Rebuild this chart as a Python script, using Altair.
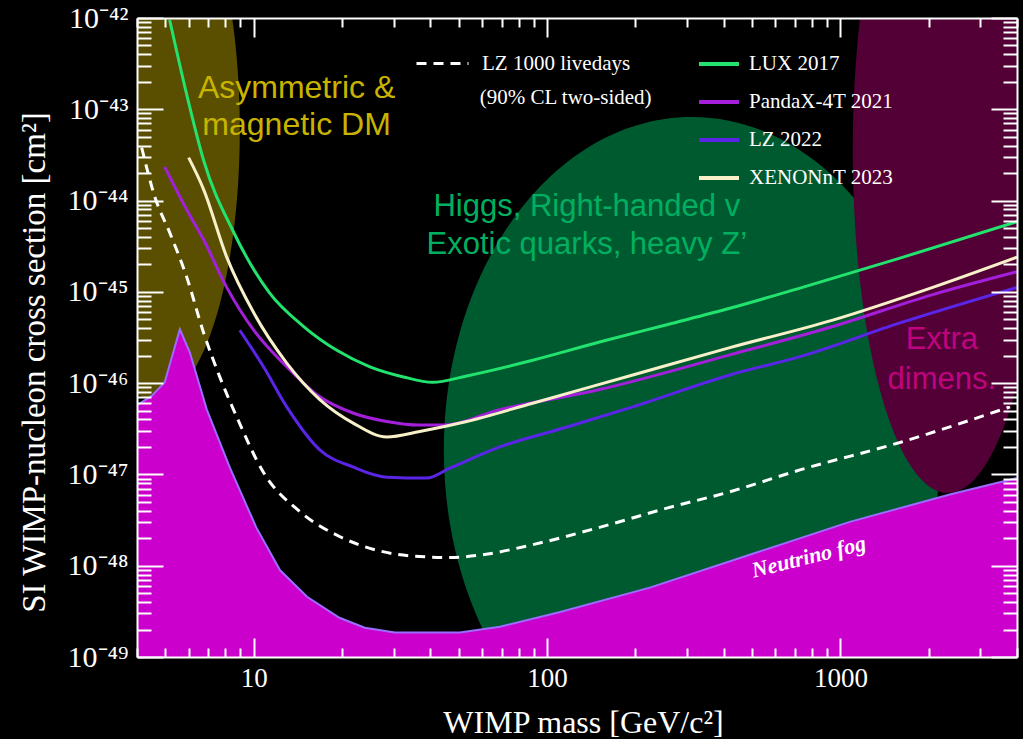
import altair as alt
import pandas as pd

# ---------------- data ----------------
fog_mass = [4.0, 4.49, 4.97, 5.60, 6.05, 6.92, 8.28, 10.2, 12.3, 15.2, 19.6, 23.9, 30.3,
            50.4, 69, 110, 224, 491, 1076, 2360, 4000]
fog_xsec = [5.75e-47, 7.24e-47, 1.02e-46, 3.89e-46, 2.19e-46, 5.13e-47, 1.20e-47, 2.63e-48,
            8.9e-49, 4.57e-49, 2.69e-49, 2.09e-49, 1.86e-49, 1.86e-49, 2.14e-49, 3.09e-49,
            5.75e-49, 1.32e-48, 3.02e-48, 6.03e-48, 9.12e-48]

lux_mass = [5.17, 5.91, 6.75, 8.55, 11.3, 14.8, 19.2, 24.9, 32.4, 40.7, 53.2, 89.3, 151, 256,
            420, 728, 1596, 4000]
lux_xsec = [9.5e-43, 1.45e-43, 2.75e-44, 4.47e-45, 9.8e-46, 4.17e-46, 2.29e-46, 1.51e-46,
            1.17e-46, 1.02e-46, 1.20e-46, 1.78e-46, 2.82e-46, 4.37e-46, 6.61e-46, 1.10e-45,
            2.34e-45, 5.89e-45]

pandax_mass = [4.97, 5.91, 6.75, 8.09, 10, 12.96, 16.8, 21.9, 28.4, 36.8, 44.1, 69, 151, 420,
               942, 2065, 4000]
pandax_xsec = [2.34e-44, 7.94e-45, 3.72e-45, 1.12e-45, 3.80e-46, 1.51e-46, 7.08e-47, 4.68e-47,
               3.80e-47, 3.47e-47, 3.47e-47, 5.13e-47, 8.51e-47, 2.04e-46, 4.17e-46, 9.33e-46,
               1.66e-45]

lz22_mass = [8.96, 10.8, 12.96, 16.8, 21.9, 28.4, 38.9, 46.6, 69, 117, 196, 420, 728, 1596, 4000]
lz22_xsec = [3.80e-46, 1.51e-46, 5.50e-47, 1.86e-47, 1.20e-47, 9.33e-48, 9.12e-48, 1.17e-47,
             2.00e-47, 3.31e-47, 5.50e-47, 1.23e-46, 1.95e-46, 4.57e-46, 1.12e-45]

xenon_mass = [6.0, 6.75, 8.09, 10, 12.96, 16.8, 21.9, 28.4, 36.8, 53.2, 89.3, 196, 420, 942,
              2065, 4000]
xenon_xsec = [2.95e-44, 1.32e-44, 2.40e-45, 5.89e-46, 1.66e-46, 6.61e-47, 3.63e-47, 2.57e-47,
              2.95e-47, 3.80e-47, 6.03e-47, 1.23e-46, 2.45e-46, 4.90e-46, 1.12e-45, 2.40e-45]

lz1000_mass = [4.15, 4.60, 5.17, 5.91, 6.75, 7.66, 8.75, 10.8, 14.4, 19.6, 26.9, 36.8, 46.6,
               60.4, 89.3, 151, 256, 420, 728, 1596, 3785]
lz1000_xsec = [3.80e-44, 1.10e-44, 4.47e-45, 1.45e-45, 3.55e-46, 1.17e-46, 4.27e-47, 1.05e-47,
               3.89e-48, 2.09e-48, 1.45e-48, 1.26e-48, 1.23e-48, 1.32e-48, 1.70e-48, 2.63e-48,
               4.27e-48, 6.46e-48, 1.12e-47, 2.24e-47, 5.50e-47]

series_names = ["LUX 2017", "PandaX-4T 2021", "LZ 2022", "XENONnT 2023"]
series_colors = ["#22e36e", "#a41fdc", "#5b25e8", "#f7f0c9"]
dash_name = "LZ 1000 livedays"

# theory regions: centres in data space
region_names = ["Asymmetric & magnetic DM", "Higgs, Right-handed v", "Extra dimens."]
region_mass = [4.60, 311.5, 2323]
region_xsec = [5.93e-44, 1.85e-47, 3.58e-44]

asym_text = ["Asymmetric &", "magnetic DM"]
asym_mass = [14.0, 14.0]
asym_xsec = [1.71e-43, 6.73e-44]
higgs_text = ["Higgs, Right-handed v", "Exotic quarks, heavy Z\u2019"]
higgs_mass = [136.6, 136.6]
higgs_xsec = [8.51e-45, 3.27e-45]
extra_text = ["Extra", "dimens."]
extra_mass = [2217, 2217]
extra_xsec = [2.97e-46, 1.08e-46]
fog_text = ["Neutrino fog"]
fog_text_mass = [780]
fog_text_xsec = [1.25e-48]
note_text = ["(90% CL two-sided)"]
note_mass = [58.96]
note_xsec = [1.33e-43]

x_major = [10, 100, 1000]
x_minor = [4, 5, 6, 7, 8, 9, 20, 30, 40, 50, 60, 70, 80, 90,
           200, 300, 400, 500, 600, 700, 800, 900, 2000, 3000, 4000]
y_major = [10.0 ** e for e in range(-49, -41)]
y_minor = [m * 10.0 ** e for e in range(-49, -42) for m in range(2, 10)]
y_labels = ["10\u207b\u2074\u2079", "10\u207b\u2074\u2078", "10\u207b\u2074\u2077",
            "10\u207b\u2074\u2076", "10\u207b\u2074\u2075", "10\u207b\u2074\u2074",
            "10\u207b\u2074\u00b3", "10\u207b\u2074\u00b2"]

# ---------------- tables ----------------
curves = pd.concat([
    pd.DataFrame({"series": n, "mass": m, "xsec": s})
    for n, m, s in [
        ("LUX 2017", lux_mass, lux_xsec),
        ("PandaX-4T 2021", pandax_mass, pandax_xsec),
        ("LZ 2022", lz22_mass, lz22_xsec),
        ("XENONnT 2023", xenon_mass, xenon_xsec),
    ]
], ignore_index=True)
fog_df = pd.DataFrame({"mass": fog_mass, "xsec": fog_xsec})
dash_df = pd.DataFrame({"proj": dash_name, "mass": lz1000_mass, "xsec": lz1000_xsec})
regions = pd.DataFrame({"name": region_names, "mass": region_mass, "xsec": region_xsec})

xs = alt.Scale(type="log", domain=[4, 4000], nice=False)
ys = alt.Scale(type="log", domain=[1e-49, 1e-42], nice=False)

W, H = 880, 639
SERIF = "Liberation Serif"
SANS = "Liberation Sans"


def ellipse_path(rx, ry):
    r = max(rx, ry)
    a, b, k = rx / r, ry / r, 0.5523
    f = lambda v: f"{v:.4f}"
    p = (f"M 0 {f(-b)} C {f(k*a)} {f(-b)} {f(a)} {f(-k*b)} {f(a)} 0 "
         f"C {f(a)} {f(k*b)} {f(k*a)} {f(b)} 0 {f(b)} "
         f"C {f(-k*a)} {f(b)} {f(-a)} {f(k*b)} {f(-a)} 0 "
         f"C {f(-a)} {f(-k*b)} {f(-k*a)} {f(-b)} 0 {f(-b)} Z")
    return p, (2 * r) ** 2


def region_layer(idx, rx, ry, color):
    path, size = ellipse_path(rx, ry)
    return alt.Chart(regions.iloc[[idx]]).mark_point(
        shape=path, size=size, filled=True, fill=color, opacity=1, strokeWidth=0, clip=True
    ).encode(x=alt.X("mass:Q", scale=xs, axis=None), y=alt.Y("xsec:Q", scale=ys, axis=None))


ell_asym = region_layer(0, 85, 270, "#5a4f00")
ell_higgs = region_layer(1, 248, 333, "#005a30")
ell_extra = region_layer(2, 95, 343, "#520036")

fog_area = alt.Chart(fog_df).mark_area(color="#cc00cc", opacity=1, clip=True).encode(
    x=alt.X("mass:Q", scale=xs, axis=None),
    y=alt.Y("xsec:Q", scale=ys, axis=None),
    y2=alt.datum(1e-49),
)
fog_line = alt.Chart(fog_df).mark_line(color="#9a6dff", strokeWidth=2, clip=True).encode(
    x=alt.X("mass:Q", scale=xs, axis=None), y=alt.Y("xsec:Q", scale=ys, axis=None)
)

lines = alt.Chart(curves).mark_line(strokeWidth=3, clip=True, interpolate="monotone").encode(
    x=alt.X("mass:Q", scale=xs, axis=None),
    y=alt.Y("xsec:Q", scale=ys, axis=None),
    color=alt.Color("series:N", scale=alt.Scale(domain=series_names, range=series_colors),
                    legend=alt.Legend(orient="none", legendX=560, legendY=24, title=None,
                                      direction="vertical", symbolType="stroke",
                                      symbolStrokeWidth=4, symbolSize=1600,
                                      labelFont=SERIF, labelFontSize=21, labelColor="white",
                                      labelOffset=8, rowPadding=6, padding=0)),
)

dashed = alt.Chart(dash_df).mark_line(color="white", strokeWidth=3, clip=True,
                                      interpolate="monotone").encode(
    x=alt.X("mass:Q", scale=xs, axis=None),
    y=alt.Y("xsec:Q", scale=ys, axis=None),
    strokeDash=alt.StrokeDash("proj:N", scale=alt.Scale(domain=[dash_name], range=[[10, 7]]),
                              legend=alt.Legend(orient="none", legendX=278, legendY=18, title=None,
                                                symbolType="stroke", symbolStrokeColor="white",
                                                symbolStrokeWidth=3, symbolSize=2704,
                                                labelFont=SERIF, labelFontSize=21,
                                                labelColor="white", labelOffset=12, padding=0)),
)


def text_layer(texts, mass, xsec, **kw):
    df = pd.DataFrame({"t": texts, "mass": mass, "xsec": xsec})
    return alt.Chart(df).mark_text(**kw).encode(
        x=alt.X("mass:Q", scale=xs, axis=None), y=alt.Y("xsec:Q", scale=ys, axis=None), text="t:N"
    )


t_asym = text_layer(asym_text, asym_mass, asym_xsec, font=SANS, fontSize=32, color="#c8b400",
                    baseline="middle", align="center")
t_higgs = text_layer(higgs_text, higgs_mass, higgs_xsec, font=SANS, fontSize=31, color="#00b060",
                     baseline="middle", align="center")
t_extra = text_layer(extra_text, extra_mass, extra_xsec, font=SANS, fontSize=31, color="#c0037e",
                     baseline="middle", align="center")
t_fog = text_layer(fog_text, fog_text_mass, fog_text_xsec, font=SERIF, fontSize=22,
                   fontWeight="bold", fontStyle="italic", color="white", angle=346,
                   baseline="middle", align="center")
t_note = text_layer(note_text, note_mass, note_xsec, font=SERIF, fontSize=21, color="white",
                    baseline="middle", align="left")

# ---------------- axes (frame, labels, inward ticks) ----------------
dummy = pd.DataFrame({"mass": [10.0], "xsec": [1e-45]})
ylab_expr = "[" + ",".join(f"'{s}'" for s in y_labels) + "][round(log(datum.value)/LN10)+49]"

common = dict(grid=False, zindex=1)
axis_main_x = alt.Axis(orient="bottom", values=x_major, format="d", ticks=False, domain=True,
                       domainColor="white", domainWidth=2, labelColor="white", labelFont=SERIF,
                       labelFontSize=27, labelPadding=8, labelFlush=False, labelOverlap=False,
                       title="WIMP mass [GeV/c\u00b2]", titleColor="white", titleFont=SERIF,
                       titleFontSize=32, titleFontWeight="normal", titleX=446, titleY=65,
                       titleBaseline="middle", titleAlign="center", **common)
axis_main_y = alt.Axis(orient="left", values=y_major, labelExpr=ylab_expr, ticks=False,
                       domain=True, domainColor="white", domainWidth=2, labelColor="white",
                       labelFont=SERIF, labelFontSize=30, labelPadding=9, labelFlush=False,
                       labelOverlap=False, title="SI WIMP-nucleon cross section [cm\u00b2]",
                       titleColor="white", titleFont=SERIF, titleFontSize=33,
                       titleFontWeight="normal", titleX=-103, titleY=344, titleAngle=270,
                       titleBaseline="middle", titleAlign="center", **common)


def tick_axis(orient, values, size, offset, domain=False):
    kw = dict(orient=orient, values=values, ticks=True, tickSize=size, tickWidth=2,
              tickColor="white", labels=False, title=None, offset=offset, domain=domain, **common)
    if domain:
        kw.update(domainColor="white", domainWidth=2)
    return alt.Axis(**kw)


def axis_layer(ax_x, ax_y):
    return alt.Chart(dummy).mark_point(opacity=0).encode(
        x=alt.X("mass:Q", scale=xs, axis=ax_x), y=alt.Y("xsec:Q", scale=ys, axis=ax_y)
    )


ax_layers = [
    axis_layer(axis_main_x, axis_main_y),
    axis_layer(tick_axis("top", x_major, 19, -H), tick_axis("right", y_major, 26, -W)),
    axis_layer(tick_axis("top", x_minor, 9, -H), tick_axis("right", y_minor, 14, -W)),
    axis_layer(tick_axis("bottom", x_major, 19, -H, True), tick_axis("left", y_major, 26, -W, True)),
    axis_layer(tick_axis("bottom", x_minor, 9, -H), tick_axis("left", y_minor, 14, -W)),
]

chart = alt.layer(
    ell_asym, ell_higgs, ell_extra, fog_area, fog_line, dashed, lines,
    t_asym, t_higgs, t_extra, t_fog, t_note, *ax_layers
).resolve_axis(x="independent", y="independent").properties(
    width=W, height=H, background="black",
    padding={"left": 137, "top": 18, "right": 6, "bottom": 82},
    autosize=alt.AutoSizeParams(type="none"),
).configure_view(strokeWidth=0)

chart.save("out.html", embed_options={"renderer": "svg", "actions": False})
